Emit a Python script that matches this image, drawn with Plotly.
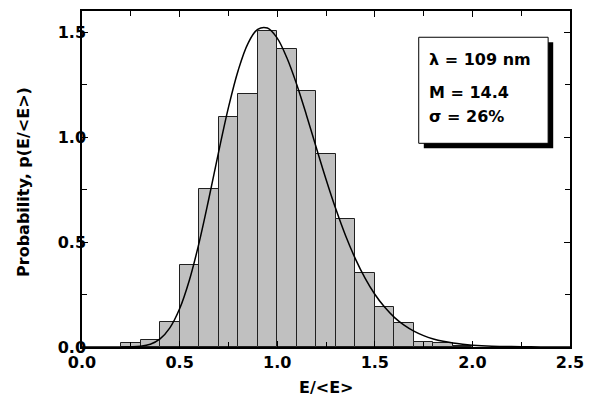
import plotly.graph_objects as go

# histogram of normalised pulse energy, bins of 0.1
bin_centers = [0.25, 0.35, 0.45, 0.55, 0.65, 0.75, 0.85, 0.95, 1.05,
               1.15, 1.25, 1.35, 1.45, 1.55, 1.65, 1.75, 1.85, 1.95]
bin_heights = [0.017, 0.032, 0.12, 0.389, 0.751, 1.097, 1.206, 1.503, 1.42,
               1.219, 0.918, 0.61, 0.352, 0.192, 0.116, 0.022, 0.018, 0.006]

# fitted distribution
fit_x = [0.0, 0.1, 0.2, 0.25, 0.3, 0.35, 0.4, 0.45, 0.5, 0.55, 0.6, 0.65,
         0.7, 0.75, 0.8, 0.85, 0.9, 0.95, 1.0, 1.05, 1.1, 1.15, 1.2, 1.25,
         1.3, 1.35, 1.4, 1.45, 1.5, 1.55, 1.6, 1.65, 1.7, 1.75, 1.8, 1.85,
         1.9, 1.95, 2.0, 2.1, 2.2, 2.3, 2.4, 2.5]
fit_y = [0.0, 0.0, 0.0001, 0.0006, 0.0035, 0.0133, 0.0387, 0.0912, 0.182,
         0.318, 0.497, 0.707, 0.929, 1.140, 1.317, 1.445, 1.513, 1.519,
         1.471, 1.376, 1.250, 1.104, 0.950, 0.799, 0.658, 0.531, 0.421,
         0.328, 0.251, 0.190, 0.141, 0.104, 0.0755, 0.0542, 0.0385, 0.027,
         0.0188, 0.013, 0.0089, 0.004, 0.0018, 0.0008, 0.0003, 0.0001]

info_lines = ["λ = 109 nm", "M = 14.4", "σ = 26%"]
info_y = [1.367, 1.211, 1.097]

font = "DejaVu Sans"

fig = go.Figure()
fig.add_trace(go.Bar(
    x=bin_centers, y=bin_heights, width=0.1,
    marker=dict(color="#c0c0c0", line=dict(color="#202020", width=1)),
    showlegend=False,
))
fig.add_trace(go.Scatter(
    x=fit_x, y=fit_y, mode="lines", line=dict(color="black", width=1.5),
    line_shape="spline", showlegend=False,
))

# info box with drop shadow
fig.add_shape(type="rect", x0=1.751, x1=2.414, y0=0.946, y1=1.451,
              fillcolor="black", line=dict(width=0))
fig.add_shape(type="rect", x0=1.725, x1=2.388, y0=0.970, y1=1.475,
              fillcolor="white", line=dict(color="black", width=1))
for txt, yy in zip(info_lines, info_y):
    fig.add_annotation(x=1.768, y=yy, text=f"<b>{txt}</b>", showarrow=False,
                       xanchor="left", yanchor="middle",
                       font=dict(family=font, size=16, color="black"))

# axis titles placed by hand
fig.add_annotation(x=0.5005, y=-0.122, xref="paper", yref="paper",
                   text="<b>E/&lt;E&gt;</b>", showarrow=False,
                   xanchor="center", yanchor="middle",
                   font=dict(family=font, size=16, color="black"))
fig.add_annotation(x=-0.121, y=0.491, xref="paper", yref="paper",
                   text="<b>Probability, p(E/&lt;E&gt;)</b>", showarrow=False,
                   textangle=-90, xanchor="center", yanchor="middle",
                   font=dict(family=font, size=16, color="black"))

axis_common = dict(
    showgrid=False, zeroline=False, showline=True, linecolor="black",
    linewidth=1.5, mirror="allticks", ticks="inside", ticklen=6,
    tickcolor="black", tickwidth=1, tickformat=".1f", automargin=False,
    tickfont=dict(family=font, size=16, color="black", weight="bold"),
    minor=dict(ticks="inside", ticklen=5, dtick=0.25, tickcolor="black"),
)

fig.update_xaxes(range=[0, 2.5], dtick=0.5, tick0=0, **axis_common)
fig.update_yaxes(range=[0, 1.6], dtick=0.5, tick0=0, ticklabelstandoff=-9,
                 **axis_common)

# page body adds an 8px margin, so the figure is a little smaller
fig.update_layout(
    width=584, height=396,
    margin=dict(l=74, r=22, t=3, b=57),
    plot_bgcolor="white", paper_bgcolor="white",
    bargap=0,
)

fig.write_html("out.html")
